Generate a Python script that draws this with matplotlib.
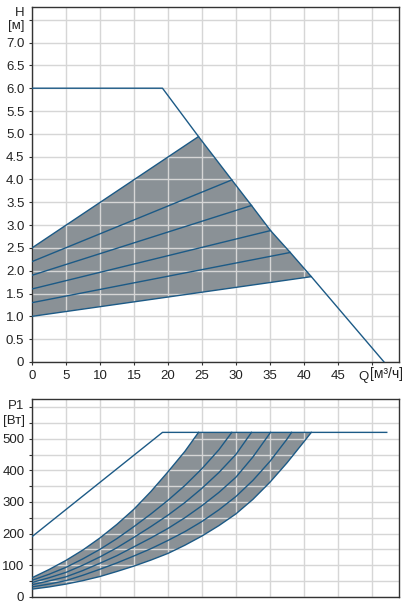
import matplotlib.pyplot as plt
import numpy as np

plt.rcParams['font.family'] = ['Liberation Sans', 'DejaVu Sans']

LINE = '#1c5a86'
FILL = '#8a9196'
GRID = '#d6d6d6'
SPINE = '#333333'
TXT = '#222222'
FS = 9.5

# верхний график: напор H [м] от расхода Q [м3/ч]
h_max_q = [0, 19.2, 24.5, 29.4, 32.3, 35.1, 38.0, 41.1, 51.8]
h_max_h = [6.0, 6.0, 4.94, 3.99, 3.43, 2.88, 2.40, 1.87, 0.0]

h_start = [2.5, 2.2, 1.9, 1.6, 1.3, 1.0]
h_end_q = [24.5, 29.4, 32.3, 35.1, 38.0, 41.1]
h_end_h = [4.94, 3.99, 3.43, 2.88, 2.40, 1.87]

# нижний график: мощность P1 [Вт]
p_max_q = [0, 19.2, 52.2]
p_max_p = [190, 520, 520]

p_q1 = [0, 2.5, 5, 7.5, 10, 12.5, 15, 17.5, 20, 22.5, 24.5]
p_p1 = [60, 86, 115, 148, 186, 229, 277, 333, 395, 460, 520]
p_q2 = [0, 2.5, 5, 7.5, 10, 12.5, 15, 17.5, 20, 22.5, 25, 27.5, 29.4]
p_p2 = [52, 71, 93, 120, 150, 184, 222, 262, 305, 352, 405, 465, 520]
p_q3 = [0, 2.5, 5, 7.5, 10, 12.5, 15, 17.5, 20, 22.5, 25, 27.5, 30, 32.3]
p_p3 = [45, 60, 77, 100, 126, 155, 188, 222, 258, 298, 343, 393, 450, 520]
p_q4 = [0, 2.5, 5, 7.5, 10, 12.5, 15, 17.5, 20, 22.5, 25, 27.5, 30, 32.5, 35.1]
p_p4 = [38, 50, 63, 83, 106, 130, 158, 186, 216, 250, 288, 330, 378, 442, 520]
p_q5 = [0, 2.5, 5, 7.5, 10, 12.5, 15, 17.5, 20, 22.5, 25, 27.5, 30, 32.5, 35, 37.5, 38.2]
p_p5 = [31, 40, 51, 68, 87, 107, 129, 152, 178, 206, 238, 275, 317, 368, 428, 498, 520]
p_q6 = [0, 2.5, 5, 7.5, 10, 12.5, 15, 17.5, 20, 22.5, 25, 27.5, 30, 32.5, 35, 37.5, 40, 41.1]
p_p6 = [24, 31, 40, 51, 64, 80, 97, 116, 137, 163, 192, 225, 262, 308, 362, 423, 490, 520]

p_q = [p_q1, p_q2, p_q3, p_q4, p_q5, p_q6]
p_p = [p_p1, p_p2, p_p3, p_p4, p_p5, p_p6]

fig = plt.figure(figsize=(4.04, 6.03), dpi=100)
ax1 = fig.add_axes([0.0792, 0.3997, 0.9084, 0.5887])
ax2 = fig.add_axes([0.0792, 0.0104, 0.9084, 0.3279])

for ax in (ax1, ax2):
    ax.set_xlim(0, 54)
    ax.set_xticks(np.arange(0, 51, 5))
    ax.grid(True, color=GRID, linewidth=1.0, zorder=2)
    for s in ax.spines.values():
        s.set_color(SPINE)
        s.set_linewidth(1.0)
    ax.tick_params(length=2.5, width=0.8, color=SPINE, labelsize=FS, pad=3,
                   labelcolor=TXT)

# --- верх ---
ax1.set_ylim(0, 7.78)
yt = np.arange(0, 7.51, 0.5)
ax1.set_yticks(yt)
ax1.set_yticklabels(['0'] + [f'{v:.1f}' for v in yt[1:-1]] + [''])
ax1.set_xticklabels([str(v) for v in range(0, 50, 5)] + [''])

poly_q = [0] + h_end_q + [0]
poly_h = [h_start[0]] + h_end_h + [h_start[-1]]
ax1.fill(poly_q, poly_h, color=FILL, zorder=1, linewidth=0)
for s, q, h in zip(h_start, h_end_q, h_end_h):
    ax1.plot([0, q], [s, h], color=LINE, lw=1.0, zorder=3)
ax1.plot(h_max_q, h_max_h, color=LINE, lw=1.0, zorder=3)

ax1.text(-0.02, 0.984, 'H', transform=ax1.transAxes, ha='right', va='center',
         fontsize=FS, color=TXT)
ax1.text(-0.02, 0.947, '[м]', transform=ax1.transAxes, ha='right', va='center',
         fontsize=FS, color=TXT)
ax1.text(0.903, -0.041, 'Q', transform=ax1.transAxes, ha='center', va='center',
         fontsize=FS, color=TXT)
ax1.text(0.922, -0.035, '[м³/ч]', transform=ax1.transAxes, ha='left', va='center',
         fontsize=10, color=TXT)

# --- низ ---
ax2.set_ylim(0, 625.6)
pt = np.arange(0, 601, 50)
ax2.set_yticks(pt)
ax2.set_yticklabels([str(int(v)) if v % 100 == 0 and v <= 500 else '' for v in pt])
ax2.tick_params(axis='x', labelbottom=False, length=0)

top_q = p_q[0] + [p_q[-1][-1]] + p_q[-1][::-1]
top_p = p_p[0] + [520] + p_p[-1][::-1]
ax2.fill(top_q, top_p, color=FILL, zorder=1, linewidth=0)
for qs, ps in zip(p_q, p_p):
    ax2.plot(qs, ps, color=LINE, lw=1.0, zorder=3)
ax2.plot(p_max_q, p_max_p, color=LINE, lw=1.0, zorder=3)

ax2.text(-0.02, 0.966, 'P1', transform=ax2.transAxes, ha='right', va='center',
         fontsize=FS, color=TXT)
ax2.text(-0.02, 0.887, '[Вт]', transform=ax2.transAxes, ha='right', va='center',
         fontsize=FS, color=TXT)

# сетка поверх заливки, но под линиями
for ax in (ax1, ax2):
    for gl in ax.get_xgridlines() + ax.get_ygridlines():
        gl.set_zorder(2)

fig.savefig('out.png', dpi=100)
